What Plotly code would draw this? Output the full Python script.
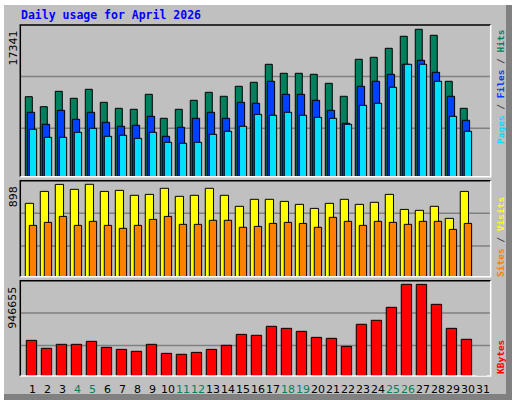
import plotly.graph_objects as go

days = list(range(1, 32))
hits = [9412, 8236, 10047, 9224, 10283, 8753, 8047, 7930, 9694, 6871, 7930, 8988, 9930, 9459, 10636,
        11106, 13224, 12165, 12165, 12047, 10988, 9459, 13812, 14047, 15106, 16518, 17341, 16635, 11224, 8047, 0]
files = [7577, 6165, 7812, 6753, 7577, 6400, 5930, 6047, 7106, 4753, 5812, 6871, 7577, 6871, 8753,
         8636, 11224, 9694, 9694, 8988, 7812, 6283, 10636, 11224, 12047, 13224, 13695, 12283, 9459, 6635, 0]
pages = [5577, 4635, 4635, 5224, 5694, 4753, 4871, 4518, 5224, 4047, 3930, 4047, 4988, 5341, 5930,
         7341, 7224, 7577, 7224, 6988, 6871, 6165, 8400, 8636, 10518, 13224, 13224, 11224, 7106, 5341, 0]
visits = [713, 829, 897, 849, 898, 829, 839, 791, 800, 859, 781, 791, 859, 791, 684,
          752, 752, 732, 703, 664, 713, 752, 703, 723, 800, 654, 645, 684, 567, 829, 0]
sites = [499, 528, 586, 499, 538, 499, 470, 499, 557, 586, 509, 509, 548, 548, 480,
         489, 518, 528, 518, 480, 577, 538, 499, 538, 528, 509, 538, 538, 460, 518, 0]
kbytes = [368000, 286000, 327000, 327000, 358000, 296000, 275000, 255000, 327000, 234000, 224000, 244000,
          275000, 317000, 430000, 420000, 513000, 492000, 461000, 399000, 389000, 306000, 534000, 575000,
          709000, 946655, 946000, 740000, 492000, 379000, 0]
weekend = [4, 5, 11, 12, 18, 19, 25, 26]
max_labels = ["17341", "898", "946655"]

C_HITS, C_FILES, C_PAGES = "#00805C", "#0040FF", "#00E0FF"
C_VIS, C_SITES, C_KB = "#FFFF00", "#FF8000", "#FF0000"
W, H = 512, 400

def px(x): return x / W
def py(y): return 1 - y / H

fig = go.Figure()
def bar(y, color, off, width, ax):
    fig.add_trace(go.Bar(x=days, y=y, marker=dict(color=color, line=dict(color="black", width=1)),
                         offset=off, width=width, xaxis="x" + ax, yaxis="y" + ax,
                         showlegend=False, hoverinfo="skip"))

bar(hits, C_HITS, -0.38, 0.467, "")
bar(files, C_FILES, -0.247, 0.49, "")
bar(pages, C_PAGES, -0.113, 0.49, "")
bar(visits, C_VIS, -0.38, 0.55, "2")
bar(sites, C_SITES, -0.113, 0.49, "2")
bar(kbytes, C_KB, -0.313, 0.69, "3")

panels = [(25, 176.7, 17846), (180.7, 276.7, 933), (280.7, 376, 983800)]
xl, xr = 20.3, 490.7
xr_range = [0.287, 31.65]
ax_common = dict(showgrid=False, zeroline=False, showticklabels=False, ticks="", showline=False, fixedrange=True)
layout = dict(width=W, height=H, margin=dict(l=0, r=0, t=0, b=0),
              paper_bgcolor="#C0C0C0", plot_bgcolor="rgba(0,0,0,0)", barmode="overlay")
shapes, annos = [], []
for i, (top, bot, rmax) in enumerate(panels):
    s = "" if i == 0 else str(i + 1)
    layout["xaxis" + s] = dict(domain=[px(xl), px(xr)], range=xr_range, anchor="y" + s, **ax_common)
    layout["yaxis" + s] = dict(domain=[py(bot), py(top)], range=[0, rmax], anchor="x" + s, **ax_common)
    for f in (0.32, 0.66):
        shapes.append(dict(type="line", xref="paper", yref="y%s domain" % s, x0=px(xl), x1=px(xr), y0=f, y1=f,
                           line=dict(color="#808080", width=1.5), layer="below"))
    shapes.append(dict(type="path", xref="paper", yref="paper",
                       path="M %f %f L %f %f L %f %f" % (px(xl), py(bot), px(xl), py(top), px(xr), py(top)),
                       line=dict(color="black", width=1.5)))
    shapes.append(dict(type="path", xref="paper", yref="paper",
                       path="M %f %f L %f %f L %f %f" % (px(xr), py(top), px(xr), py(bot), px(xl), py(bot)),
                       line=dict(color="white", width=1.5)))
    annos.append(dict(text=max_labels[i], x=px(13), y=py(top + 4), xref="paper", yref="paper",
                      xanchor="center", yanchor="top", textangle=-90, showarrow=False,
                      font=dict(family="DejaVu Sans", size=11, color="black")))

# outer frame
shapes += [
    dict(type="rect", xref="paper", yref="paper", x0=0, x1=1, y0=py(5), y1=1, fillcolor="white", line_width=0, layer="below"),
    dict(type="rect", xref="paper", yref="paper", x0=0, x1=px(4), y0=0, y1=1, fillcolor="white", line_width=0, layer="below"),
    dict(type="rect", xref="paper", yref="paper", x0=px(506), x1=1, y0=0, y1=py(5), fillcolor="#808080", line_width=0, layer="below"),
    dict(type="rect", xref="paper", yref="paper", x0=px(4), x1=1, y0=0, y1=py(394), fillcolor="#808080", line_width=0, layer="below"),
]

annos.append(dict(text="<b>Daily usage for April 2026</b>", x=px(19), y=py(15), xref="paper", yref="paper",
                  xanchor="left", yanchor="middle", showarrow=False,
                  font=dict(family="DejaVu Sans Mono", size=11.5, color="#0000FF")))

def sp(t, c): return "<span style='color:%s'>%s</span>" % (c, t)
G = "#404040"
rlabels = [
    (sp("Pages", C_PAGES) + sp(" / ", G) + sp("Files", C_FILES) + sp(" / ", G) + sp("Hits", C_HITS), 28),
    (sp("Sites", C_SITES) + sp(" / ", G) + sp("Visits", C_VIS), 195),
    (sp("KBytes", C_KB), 338),
]
for t, ytop in rlabels:
    annos.append(dict(text="<b>" + t + "</b>", x=px(500), y=py(ytop), xref="paper", yref="paper",
                      xanchor="center", yanchor="top", textangle=-90, showarrow=False,
                      font=dict(family="DejaVu Sans Mono", size=9.5)))

for d in days:
    annos.append(dict(text=str(d), x=d + 0.12, y=py(389), xref="x3", yref="paper",
                      xanchor="center", yanchor="middle", showarrow=False,
                      font=dict(family="DejaVu Sans", size=11, color=C_HITS if d in weekend else "black")))

layout["shapes"] = shapes
layout["annotations"] = annos
fig.update_layout(**layout)
fig.write_html("out.html", config={"displayModeBar": False},
               post_script="document.body.style.margin='0';document.body.style.overflow='hidden';")
